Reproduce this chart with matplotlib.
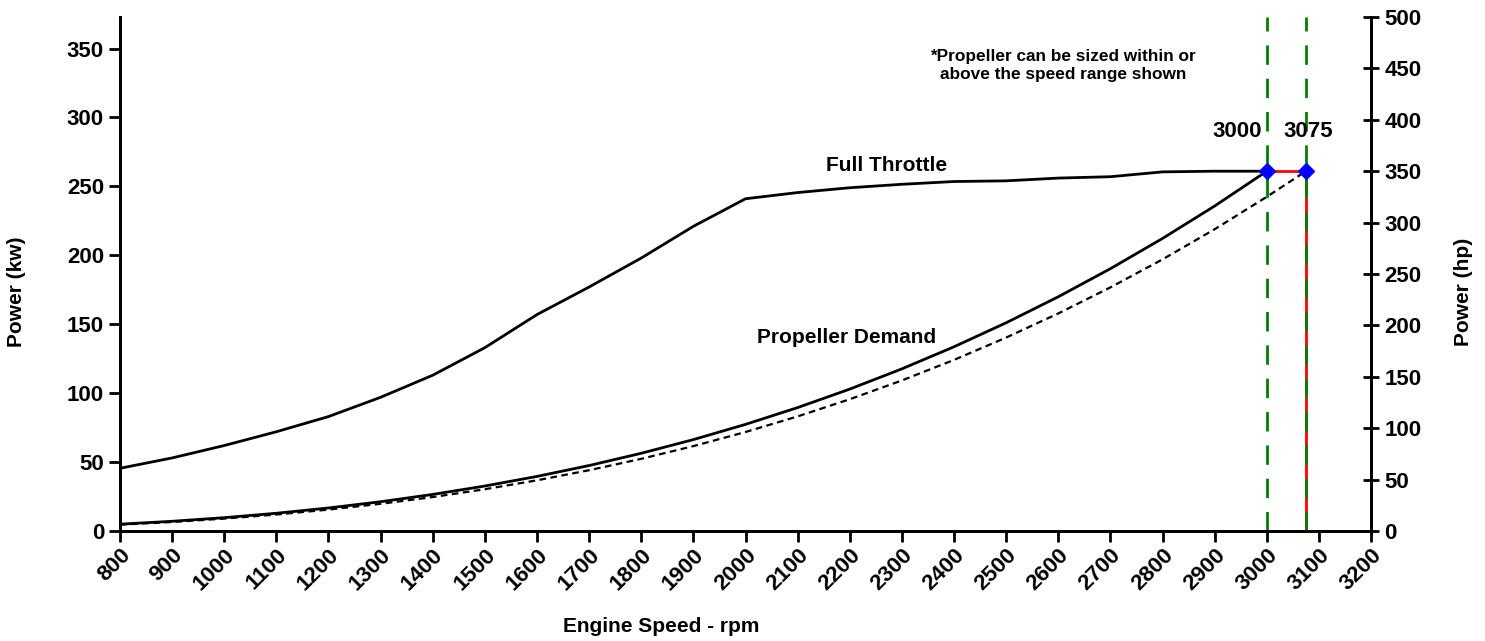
import matplotlib
matplotlib.use("Agg")
import matplotlib.pyplot as plt

plt.rcParams['font.family'] = ['Liberation Sans', 'DejaVu Sans']
plt.rcParams['font.weight'] = 'bold'

# Data (kW)
rpm = [800, 900, 1000, 1100, 1200, 1300, 1400, 1500, 1600, 1700, 1800, 1900,
       2000, 2100, 2200, 2300, 2400, 2500, 2600, 2700, 2800, 2900, 3000]
full_throttle = [45.5, 53, 62, 72, 83, 97, 113, 133, 157, 177, 198, 221,
                 241, 245.5, 249, 251.5, 253.5, 254, 256, 257, 260.5, 261, 261]
prop_demand = [4.95, 7.05, 9.67, 12.87, 16.7, 21.24, 26.53, 32.63, 39.59, 47.49,
               56.38, 66.3, 77.33, 89.52, 102.93, 117.61, 133.63, 151.04, 169.9,
               190.27, 212.2, 235.74, 261]
rpm_dash = rpm + [3075]
prop_dash = [4.6, 6.54, 8.98, 11.95, 15.51, 19.72, 24.63, 30.3, 36.77, 44.1,
             52.35, 61.57, 71.81, 83.13, 95.58, 109.2, 124.1, 140.3, 157.8,
             176.7, 197.0, 218.9, 242.4, 261]
rated_rpm = [3000, 3075]
rated_kw = [261, 261]

fig = plt.figure(figsize=(14.85, 6.41), dpi=100)
ax = fig.add_axes([120/1485, 1-531/641, (1371-120)/1485, (531-17)/641])
ax2 = ax.twinx()

ax.plot(rpm, full_throttle, color='black', lw=2)
ax.plot(rpm, prop_demand, color='black', lw=2)
ax.plot(rpm_dash, prop_dash, color='black', lw=1.6, ls=(0, (3, 2)))
ax.plot(rated_rpm, rated_kw, color='red', lw=2)
ax.plot([rated_rpm[1], rated_rpm[1]], [0, rated_kw[1]], color='red', lw=2)
for r in rated_rpm:
    ax.plot([r, r], [0, 372.85], color='green', lw=2, ls=(0, (7, 5)))
ax.plot(rated_rpm, rated_kw, ls='none', marker='D', color='blue', ms=8.5)

ax.set_xlim(800, 3200)
ax.set_ylim(0, 372.85)
ax2.set_ylim(0, 500)
ax.set_xticks(range(800, 3201, 100))
ax.set_yticks(range(0, 351, 50))
ax2.set_yticks(range(0, 501, 50))

for a in (ax, ax2):
    a.spines['top'].set_visible(False)
    for s in a.spines.values():
        s.set_linewidth(2)
ax.tick_params(axis='both', direction='out', length=8, width=2, labelsize=16)
ax.tick_params(axis='x', pad=2)
ax2.tick_params(axis='y', direction='inout', length=12, width=2, labelsize=16)
for lbl in ax.get_xticklabels():
    lbl.set_rotation(45)
    lbl.set_ha('right')
    lbl.set_rotation_mode('anchor')
    lbl.set_fontweight('bold')
for lbl in ax.get_yticklabels() + ax2.get_yticklabels():
    lbl.set_fontweight('bold')

ax.set_xlabel('Engine Speed - rpm', fontsize=15, fontweight='bold')
ax.xaxis.set_label_coords((661-120)/1251, -(627-531)/514)
ax.xaxis.label.set_va('center')
ax.set_ylabel('Power (kw)', fontsize=15, fontweight='bold')
ax.yaxis.set_label_coords((17-120)/1251, (531-292)/514)
ax.yaxis.label.set_va('center')
ax2.set_ylabel('Power (hp)', fontsize=15, fontweight='bold')
ax2.yaxis.set_label_coords((1463-120)/1251, (531-292)/514)
ax2.yaxis.label.set_va('center')

ax.text(2943, 290, '3000', fontsize=16, fontweight='bold', ha='center', va='center')
ax.text(3079, 290, '3075', fontsize=16, fontweight='bold', ha='center', va='center')
ax.text(2271, 265, 'Full Throttle', fontsize=15, fontweight='bold', ha='center', va='center')
ax.text(2193, 140.5, 'Propeller Demand', fontsize=15, fontweight='bold', ha='center', va='center')
ax.text(2609, 337.5, '*Propeller can be sized within or\nabove the speed range shown',
        fontsize=12.4, fontweight='bold', ha='center', va='center', linespacing=1.25)

fig.savefig('out.png', dpi=100)
